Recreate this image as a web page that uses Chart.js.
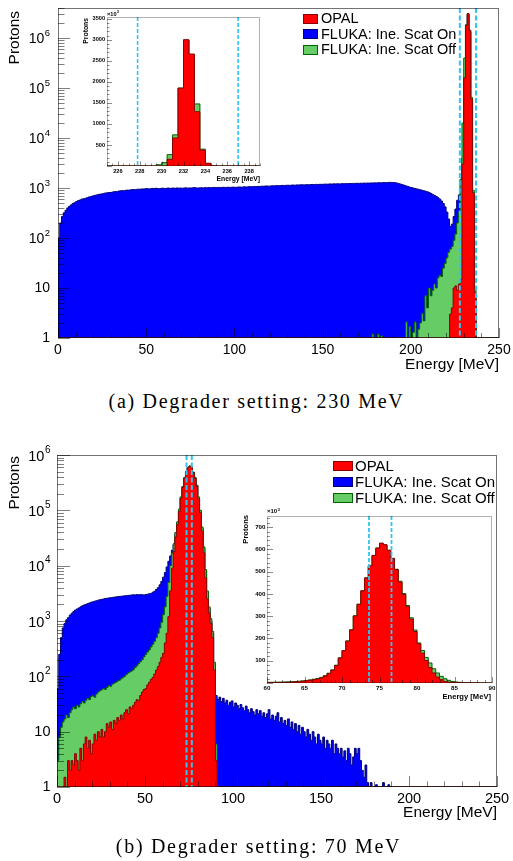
<!DOCTYPE html>
<html>
<head>
<meta charset="utf-8">
<title>Degrader energy spectra</title>
<script src="https://cdn.jsdelivr.net/npm/chart.js@4.4.1/dist/chart.umd.min.js"></script>
<style>
  html, body { margin:0; padding:0; background:#fff; }
  body { position:relative; width:513px; height:861px; overflow:hidden; }
  canvas { position:absolute; }
  .cap { position:absolute; left:0; width:513px; text-align:center; font-family:"Liberation Serif","Times New Roman",serif; font-size:20px; line-height:20px; letter-spacing:1.7px; color:#000; white-space:nowrap; }
  .leg { position:absolute; font-family:"Liberation Sans",Arial,sans-serif; color:#000; }
  .leg .row { display:flex; align-items:center; white-space:nowrap; }
  .leg .box { display:inline-block; box-sizing:border-box; border:1px solid; flex:none; }
</style>
</head>
<body>
<canvas id="cA" width="513" height="390" style="left:0;top:0"></canvas>
<canvas id="cAi" width="200" height="185" style="left:70px;top:5px"></canvas>
<canvas id="cB" width="513" height="400" style="left:0;top:440px"></canvas>
<canvas id="cBi" width="270" height="205" style="left:230px;top:500px"></canvas>
<div class="leg" id="legA" style="left:303px;top:11px;font-size:14.5px"></div>
<div class="leg" id="legB" style="left:333px;top:458px;font-size:15px"></div>
<div class="cap" style="top:391px">(a) Degrader setting: 230 MeV</div>
<div class="cap" style="top:836px;left:2px">(b) Degrader setting: 70 MeV</div>
<script>
// ================= DATA =================
const seriesNames = ['OPAL', 'FLUKA: Ine. Scat On', 'FLUKA: Ine. Scat Off'];
const energyRange = [0, 250];
const mainBinWidth = 1;          // MeV per bin in the main plots
const mainXTickLabels = [0, 50, 100, 150, 200, 250];
const logYTickLabels = [1, 10, 100, 1000, 10000, 100000, 1000000];

// ---- (a) Degrader setting 230 MeV (protons per 1 MeV bin) ----
const aYMax = 4.0e6;
const aOnStart = 0;
const aOnCounts = [
  100, 200, 270, 320, 360, 400, 430, 460, 490, 510,
  535, 560, 575, 600, 610, 620, 640, 660, 670, 690,
  705, 720, 735, 750, 760, 770, 790, 800, 810, 815,
  820, 840, 850, 845, 870, 880, 890, 880, 900, 910,
  910, 920, 935, 925, 940, 950, 945, 960, 955, 965,
  975, 960, 970, 985, 975, 990, 980, 970, 985, 995,
  980, 990, 1000, 985, 995, 1000, 990, 1005, 995, 1000,
  990, 1000, 1010, 995, 1005, 1000, 1010, 1020, 1005, 1000,
  1010, 1015, 1000, 1020, 1010, 1025, 1015, 1020, 1030, 1020,
  1025, 1030, 1020, 1035, 1030, 1025, 1040, 1030, 1035, 1045,
  1030, 1040, 1050, 1045, 1040, 1060, 1050, 1055, 1070, 1060,
  1065, 1075, 1070, 1080, 1075, 1090, 1085, 1095, 1100, 1090,
  1100, 1110, 1105, 1115, 1120, 1110, 1125, 1130, 1120, 1135,
  1140, 1130, 1145, 1150, 1140, 1155, 1150, 1160, 1165, 1155,
  1165, 1170, 1160, 1175, 1180, 1170, 1185, 1180, 1190, 1185,
  1190, 1200, 1195, 1200, 1210, 1200, 1215, 1205, 1220, 1210,
  1215, 1225, 1220, 1230, 1225, 1235, 1230, 1240, 1235, 1245,
  1240, 1250, 1245, 1255, 1250, 1260, 1255, 1265, 1260, 1270,
  1265, 1275, 1280, 1270, 1285, 1290, 1280, 1295, 1300, 1285,
  1290, 1270, 1250, 1220, 1190, 1160, 1130, 1100, 1070, 1040,
  1020, 1000, 980, 960, 940, 920, 900, 880, 860, 840,
  810, 780, 740, 710, 680, 640, 600, 550, 490, 420,
  330, 240, 170, 190, 270, 380, 570, 730, 1500, 4000,
  150000, 1700000, 3000000, 1300000, 50000, 700, 6
];
const aOffStart = 178;
const aOffCounts = [
  1.2, 0, 0, 1.2, 0, 1.1, 0, 0, 0, 0,
  0, 0, 0, 0, 0, 0, 0, 0, 0, 2.1,
  0, 1.7, 0, 1.3, 2.1, 0, 1.5, 2, 3.1, 2.2,
  7, 4, 10, 7, 9, 12, 10, 16, 18, 17,
  25, 31, 40, 52, 60, 68, 90, 120, 200, 330,
  1500, 20000, 400000, 1850000, 3000000, 1450000, 65000, 900, 10
];
const aOpalStart = 222;
const aOpalCounts = [3, 4, 10, 11, 9, 12, 15, 3000, 160000, 1800000, 3100000, 1400000, 60000, 800, 8];
const aCuts = [227.8, 237.0];

// inset (a): 0.5 MeV bins, protons x10^3
const aInsetRange = [225, 239];
const aInsetYMax = 3540;
const aInsetStart = 225;
const aInsetBinWidth = 0.5;
const aInsetOpal = [0,0,0,0,0,0,0,0,0,0,0, 160, 665, 1850, 3000, 2660, 1290, 380, 65, 3, 0,0,0,0,0,0,0,0];
const aInsetOff  = [0,0,0,0,0,0,0,0,0, 30, 80, 270, 740, 1850, 2990, 2650, 1475, 400, 60, 2, 0,0,0,0,0,0,0,0];
const aInsetXTickLabels = [226, 228, 230, 232, 234, 236, 238];
const aInsetYTickLabels = [500, 1000, 1500, 2000, 2500, 3000, 3500];

// ---- (b) Degrader setting 70 MeV (protons per 1 MeV bin) ----
const bYMax = 1.0e6;
const bOnStart = 0;
const bOnCounts = [
  60, 250, 500, 750, 900, 1050, 1150, 1280, 1380, 1480,
  1580, 1650, 1720, 1800, 1880, 1950, 2000, 2060, 2120, 2180,
  2230, 2280, 2320, 2380, 2420, 2460, 2500, 2540, 2580, 2600,
  2640, 2660, 2700, 2720, 2760, 2780, 2800, 2820, 2850, 2870,
  2900, 2920, 2950, 2980, 2960, 3000, 2970, 3000, 2980, 2950,
  3000, 3050, 3100, 3150, 3300, 3450, 3700, 4000, 4500, 5200,
  6200, 7500, 9500, 12000, 15000, 19000, 24000, 38000, 60000, 100000,
  170000, 265000, 385000, 500000, 590000, 625000, 600000, 485000, 390000, 280000,
  170000, 98000, 48000, 21000, 8000, 3300, 1700, 1000, 600, 170,
  45, 38, 42, 35, 40, 33, 37, 30, 34, 36,
  28, 33, 30, 26, 31, 27, 24, 29, 25, 22,
  26, 23, 20, 25, 21, 24, 19, 22, 18, 21,
  25, 17, 20, 16, 19, 22, 15, 18, 14, 16,
  13, 17, 12, 15, 11, 14, 10, 13, 9, 12,
  10, 8, 11, 9, 7, 10, 8, 6, 9, 7,
  6, 8, 5, 7, 6, 5, 7, 4, 6, 5,
  4, 5, 3.5, 4.5, 3, 5, 4, 2.5, 3.5, 5,
  4, 5, 3, 2, 1.5, 2.5, 1.2, 0, 1.2, 0,
  0, 1.1, 0, 0, 0, 1.2, 0, 0, 1.1, 0
];
const bOffStart = 0;
const bOffCounts = [
  3, 8, 12, 15, 17, 20, 18, 22, 25, 28,
  26, 30, 28, 32, 35, 33, 37, 40, 38, 43,
  45, 42, 48, 52, 55, 57, 60, 58, 63, 68,
  66, 72, 75, 78, 82, 85, 90, 95, 100, 108,
  115, 120, 125, 132, 145, 155, 170, 185, 200, 225,
  250, 275, 300, 340, 380, 430, 500, 600, 750, 950,
  1300, 1800, 2800, 5000, 10000, 17000, 25000, 40000, 62000, 105000,
  175000, 270000, 390000, 505000, 595000, 630000, 605000, 490000, 395000, 285000,
  175000, 100000, 50000, 22000, 8500, 3500, 1800, 1100, 650, 180,
  6
];
const bOpalStart = 0;
const bOpalCounts = [
  0, 0, 0, 0, 1.5, 0, 3, 2, 3, 2.5,
  4, 3, 2, 5, 3, 6, 8, 5, 7, 4,
  6, 9, 7, 10, 8, 11, 8, 10, 14, 12,
  15, 11, 16, 14, 18, 16, 20, 17, 22, 25,
  21, 28, 26, 30, 34, 38, 36, 45, 52, 58,
  60, 70, 78, 88, 95, 110, 130, 150, 180, 220,
  260, 400, 600, 1200, 3500, 9000, 18000, 33000, 55000, 95000,
  165000, 260000, 380000, 500000, 590000, 628000, 600000, 480000, 380000, 270000,
  160000, 90000, 42000, 17000, 6000, 2500, 1400, 900, 500, 130,
  3
];
const bCuts = [73.6, 76.6];

// inset (b): 0.5 MeV bins, protons x10^3
const bInsetRange = [60, 90];
const bInsetYMax = 750;
const bInsetStart = 60;
const bInsetBinWidth = 0.5;
const bInsetOpal = [
  1.5, 1.8, 2.1, 2.4, 2.8, 3.3, 4, 5, 6, 8,
  10, 12, 15, 18, 23, 31, 42, 57, 78, 112,
  145, 188, 238, 301, 353, 414, 472, 526, 573, 606,
  628, 621, 596, 559, 509, 454, 398, 343, 287, 231,
  176, 134, 101, 70, 45, 27, 15, 7, 4, 3,
  2, 1.5, 1, 0.7, 0.5, 0.3, 0.2, 0.1, 0, 0
];
const bInsetOff = [
  3, 3.3, 3.6, 4, 4.5, 5, 5.8, 6.6, 7.8, 9.5,
  11.5, 14, 17, 20, 25, 33, 44, 59, 80, 113,
  146, 189, 239, 302, 354, 414, 472, 526, 573, 606,
  627, 620, 596, 560, 511, 457, 402, 348, 293, 238,
  180, 146, 115, 90, 64, 45, 30, 19, 12, 7,
  4.5, 3, 2, 1.5, 1, 0.7, 0.5, 0.3, 0.2, 0.1
];
const bInsetXTickLabels = [60, 65, 70, 75, 80, 85, 90];
const bInsetYTickLabels = [100, 200, 300, 400, 500, 600, 700];

// ================= STYLE =================
const SANS = '"Liberation Sans", Arial, Helvetica, sans-serif';
const COL = {
  opal: { fill: '#ff0000', line: '#8b0000' },
  on:   { fill: '#0000ff', line: '#00007a' },
  off:  { fill: '#66cc66', line: '#006400' }
};
const CUT_COLOR = '#30c4f3';

// ================= HELPERS =================
function histPoints(start, width, counts, lo, hi, floor) {
  const pts = [{ x: lo, y: floor }];
  counts.forEach((c, i) => pts.push({ x: start + i * width, y: Math.max(c, floor) }));
  const end = start + counts.length * width;
  pts.push({ x: end, y: floor });
  if (end < hi) pts.push({ x: hi, y: floor });
  return pts;
}
function histDataset(label, pts, col, order) {
  return { label, data: pts, stepped: true, fill: 'start', backgroundColor: col.fill,
           borderColor: col.line, borderWidth: 1, pointRadius: 0, order };
}
function linTicks(lo, hi, step, isMajor, majLen, minLen) {
  const out = [];
  const n = Math.round((hi - lo) / step);
  for (let i = 0; i <= n; i++) { const v = +(lo + i * step).toFixed(6); out.push({ v, len: isMajor(v) ? majLen : minLen }); }
  return out;
}
function logTicks(maxVal, majLen, minLen) {
  const out = [];
  for (let d = 0; d < 8; d++) for (let m = 1; m <= 9; m++) {
    const v = m * Math.pow(10, d); if (v <= maxVal) out.push({ v, len: m === 1 ? majLen : minLen });
  }
  return out;
}

const axisCfg = {};
const rootAxes = {
  id: 'rootAxes',
  afterDraw(chart) {
    const o = axisCfg[chart.canvas.id]; if (!o) return;
    const ctx = chart.ctx, ca = chart.chartArea, xs = chart.scales.x, ys = chart.scales.y;
    ctx.save();
    // cut lines
    ctx.lineWidth = o.cutWidth; ctx.strokeStyle = CUT_COLOR; ctx.setLineDash(o.cutDash);
    for (const e of o.cuts) {
      const px = xs.getPixelForValue(e);
      ctx.beginPath(); ctx.moveTo(px, ca.top); ctx.lineTo(px, ca.bottom); ctx.stroke();
    }
    ctx.setLineDash([]);
    // ticks (inward)
    ctx.lineWidth = 1; ctx.strokeStyle = o.tickColor; ctx.beginPath();
    for (const t of o.xTicks) { const px = Math.round(xs.getPixelForValue(t.v)) + 0.5; ctx.moveTo(px, ca.bottom); ctx.lineTo(px, ca.bottom - t.len); }
    for (const t of o.yTicks) { const py = Math.round(ys.getPixelForValue(t.v)) + 0.5; ctx.moveTo(ca.left, py); ctx.lineTo(ca.left + t.len, py); }
    ctx.stroke();
    // frame
    ctx.strokeStyle = o.frameColor;
    ctx.strokeRect(Math.round(ca.left) + 0.5, Math.round(ca.top) + 0.5, Math.round(ca.right - ca.left) - 1, Math.round(ca.bottom - ca.top) - 1);
    // tick labels
    ctx.fillStyle = '#000'; ctx.textBaseline = 'middle';
    ctx.font = o.tickFont; ctx.textAlign = 'center';
    for (const v of o.xLabels) ctx.fillText(String(v), xs.getPixelForValue(v), ca.bottom + o.xLabelDy);
    const rx = ca.left - o.yLabelGap;
    for (const v of o.yLabels) {
      const py = ys.getPixelForValue(v);
      if (o.log && v >= 100) {
        const exp = String(Math.round(Math.log10(v)));
        ctx.font = o.expFont; const we = ctx.measureText(exp).width;
        ctx.textAlign = 'right'; ctx.fillText(exp, rx, py - o.expDy);
        ctx.font = o.tickFont; ctx.fillText('10', rx - we - 0.5, py + o.baseDy);
      } else {
        ctx.font = o.tickFont; ctx.textAlign = 'right'; ctx.fillText(String(v), rx, py);
      }
    }
    // axis titles
    ctx.font = o.titleFont; ctx.textAlign = 'right';
    ctx.fillText(o.xTitle, ca.right + o.xTitleDx, ca.bottom + o.xTitleDy);
    ctx.save();
    ctx.translate(ca.left - o.yTitleGap, ca.top + o.yTitleDy); ctx.rotate(-Math.PI / 2);
    ctx.textAlign = 'right'; ctx.fillText(o.yTitle, 0, 0);
    ctx.restore();
    // multiplier
    if (o.mult) {
      ctx.textAlign = 'left';
      ctx.font = o.multFont; const w = ctx.measureText(o.mult).width;
      ctx.fillText(o.mult, ca.left + o.multDx, ca.top + o.multDy);
      ctx.font = o.multExpFont; ctx.fillText(o.multExp, ca.left + o.multDx + w + 0.3, ca.top + o.multDy - 2);
    }
    ctx.restore();
  }
};

function makeChart(id, pad, xr, yType, yMax, floor, sets) {
  return new Chart(document.getElementById(id), {
    type: 'line',
    data: { datasets: sets },
    options: {
      responsive: false, animation: false, events: [],
      layout: { padding: pad },
      scales: {
        x: { type: 'linear', min: xr[0], max: xr[1], display: false },
        y: { type: yType, min: floor, max: yMax, display: false }
      },
      plugins: { legend: { display: false }, tooltip: { enabled: false } },
      elements: { line: { tension: 0 } }
    },
    plugins: [rootAxes]
  });
}

// ================= PANEL (a) =================
axisCfg.cA = {
  cuts: aCuts, cutWidth: 2, cutDash: [5, 2.5],
  tickColor: 'rgba(0,0,0,0.5)', frameColor: 'rgba(0,0,0,0.55)',
  xTicks: linTicks(0, 250, 10, v => v % 50 === 0, 10, 5),
  yTicks: logTicks(aYMax, 12, 6.5),
  xLabels: mainXTickLabels, xLabelDy: 12.5,
  yLabels: logYTickLabels, log: true, yLabelGap: 8, expDy: 4.5, baseDy: 1.5,
  tickFont: '14px ' + SANS, expFont: '9.5px ' + SANS,
  titleFont: '15.5px ' + SANS,
  xTitle: 'Energy [MeV]', xTitleDx: 0, xTitleDy: 27,
  yTitle: 'Protons', yTitleGap: 43, yTitleDy: 3
};
makeChart('cA', { left: 58, top: 8, right: 14, bottom: 52 }, energyRange, 'logarithmic', aYMax, 1, [
  histDataset(seriesNames[0], histPoints(aOpalStart, mainBinWidth, aOpalCounts, 0, 250, 1), COL.opal, 0),
  histDataset(seriesNames[2], histPoints(aOffStart, mainBinWidth, aOffCounts, 0, 250, 1), COL.off, 1),
  histDataset(seriesNames[1], histPoints(aOnStart, mainBinWidth, aOnCounts, 0, 250, 1), COL.on, 2)
]);

axisCfg.cAi = {
  cuts: aCuts, cutWidth: 1.6, cutDash: [4, 2],
  tickColor: 'rgba(0,0,0,0.45)', frameColor: 'rgba(0,0,0,0.3)',
  xTicks: linTicks(225, 239, 0.5, v => v % 2 === 0, 4.5, 2.5),
  yTicks: linTicks(0, 3500, 100, v => v % 500 === 0, 5, 2.5),
  xLabels: aInsetXTickLabels, xLabelDy: 5,
  yLabels: aInsetYTickLabels, log: false, yLabelGap: 2,
  tickFont: 'bold 5.6px ' + SANS,
  titleFont: 'bold 6.8px ' + SANS,
  xTitle: 'Energy [MeV]', xTitleDx: 0, xTitleDy: 12.7,
  yTitle: 'Protons', yTitleGap: 21, yTitleDy: 1,
  mult: '\u00d710', multExp: '3', multFont: 'bold 5.6px ' + SANS, multExpFont: 'bold 4px ' + SANS, multDx: 0, multDy: -3
};
makeChart('cAi', { left: 37, top: 12, right: 10, bottom: 24 }, aInsetRange, 'linear', aInsetYMax, 0, [
  histDataset(seriesNames[0], histPoints(aInsetStart, aInsetBinWidth, aInsetOpal, 225, 239, 0), COL.opal, 0),
  histDataset(seriesNames[2], histPoints(aInsetStart, aInsetBinWidth, aInsetOff, 225, 239, 0), COL.off, 1)
]);

// ================= PANEL (b) =================
axisCfg.cB = {
  cuts: bCuts, cutWidth: 2, cutDash: [5, 2.5],
  tickColor: 'rgba(0,0,0,0.5)', frameColor: 'rgba(0,0,0,0.55)',
  xTicks: linTicks(0, 250, 10, v => v % 50 === 0, 11, 5.5),
  yTicks: logTicks(bYMax, 13, 7),
  xLabels: mainXTickLabels, xLabelDy: 12,
  yLabels: logYTickLabels, log: true, yLabelGap: 6.5, expDy: 5, baseDy: 1.5,
  tickFont: '14.5px ' + SANS, expFont: '10px ' + SANS,
  titleFont: '15.5px ' + SANS,
  xTitle: 'Energy [MeV]', xTitleDx: 0, xTitleDy: 26,
  yTitle: 'Protons', yTitleGap: 42, yTitleDy: 1
};
makeChart('cB', { left: 57, top: 15, right: 16, bottom: 53 }, energyRange, 'logarithmic', bYMax, 1, [
  histDataset(seriesNames[0], histPoints(bOpalStart, mainBinWidth, bOpalCounts, 0, 250, 1), COL.opal, 0),
  histDataset(seriesNames[2], histPoints(bOffStart, mainBinWidth, bOffCounts, 0, 250, 1), COL.off, 1),
  histDataset(seriesNames[1], histPoints(bOnStart, mainBinWidth, bOnCounts, 0, 250, 1), COL.on, 2)
]);

axisCfg.cBi = {
  cuts: bCuts, cutWidth: 1.8, cutDash: [4, 2],
  tickColor: 'rgba(0,0,0,0.45)', frameColor: 'rgba(0,0,0,0.3)',
  xTicks: linTicks(60, 90, 1, v => v % 5 === 0, 6, 3),
  yTicks: linTicks(0, 740, 20, v => v % 100 === 0, 6, 3),
  xLabels: bInsetXTickLabels, xLabelDy: 5,
  yLabels: bInsetYTickLabels, log: false, yLabelGap: 1.5,
  tickFont: 'bold 6.2px ' + SANS,
  titleFont: 'bold 7.6px ' + SANS,
  xTitle: 'Energy [MeV]', xTitleDx: -1, xTitleDy: 14,
  yTitle: 'Protons', yTitleGap: 21, yTitleDy: -1,
  mult: '\u00d710', multExp: '3', multFont: 'bold 6px ' + SANS, multExpFont: 'bold 4.3px ' + SANS, multDx: 0, multDy: -4.5
};
makeChart('cBi', { left: 37, top: 16, right: 8, bottom: 22 }, bInsetRange, 'linear', bInsetYMax, 0, [
  histDataset(seriesNames[0], histPoints(bInsetStart, bInsetBinWidth, bInsetOpal, 60, 90, 0), COL.opal, 0),
  histDataset(seriesNames[2], histPoints(bInsetStart, bInsetBinWidth, bInsetOff, 60, 90, 0), COL.off, 1)
]);

// ================= LEGENDS =================
function buildLegend(id, rowH, boxW, boxH, gap) {
  const el = document.getElementById(id);
  const cols = [COL.opal, COL.on, COL.off];
  seriesNames.forEach((name, i) => {
    const row = document.createElement('div'); row.className = 'row';
    row.style.height = rowH + 'px'; row.style.lineHeight = rowH + 'px';
    const box = document.createElement('span'); box.className = 'box';
    box.style.width = boxW + 'px'; box.style.height = boxH + 'px';
    box.style.background = cols[i].fill; box.style.borderColor = cols[i].line; box.style.marginRight = gap + 'px';
    row.appendChild(box); row.appendChild(document.createTextNode(name));
    el.appendChild(row);
  });
}
buildLegend('legA', 15.5, 15, 10, 3);
buildLegend('legB', 16, 20, 10, 2);
</script>
</body>
</html>
